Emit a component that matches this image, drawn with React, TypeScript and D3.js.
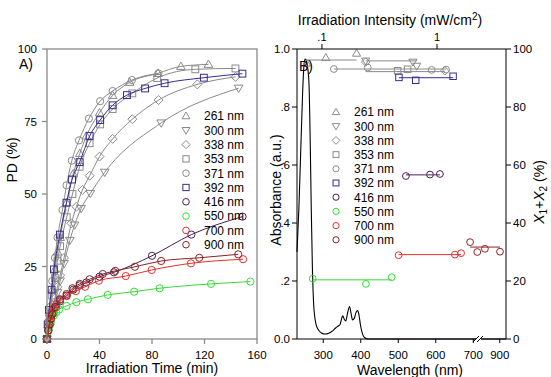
import React from "react";
import * as d3 from "d3";

// legend / series labels
const seriesLabels = ["261 nm", "300 nm", "338 nm", "353 nm", "371 nm", "392 nm", "416 nm", "550 nm", "700 nm", "900 nm"];

// panel A: photodegree vs irradiation time
const t261 = [0, 1, 2, 4, 6, 8, 10, 15, 20, 25, 30, 40, 50, 63, 84.5, 102, 123];
const pd261 = [0, 5, 9, 17, 24, 30, 35, 47, 57, 64, 70, 78, 84, 88.5, 91.6, 94, 94.7];
const t300 = [0, 2, 4, 6, 8, 10, 13, 17.4, 21, 26, 33, 44, 87, 146];
const pd300 = [0, 4, 8, 12, 16, 20, 26, 34, 39.3, 45, 50.2, 57.5, 74.5, 86.5];
const t338 = [0, 2, 4, 6, 8, 10, 13, 18.6, 22.4, 27, 32.5, 40, 50, 65, 85, 114.5, 143.6];
const pd338 = [0, 5, 10, 14, 18, 22, 28, 39.9, 45.6, 51.4, 56.3, 62.9, 69, 75.8, 82.4, 87.8, 90.4];
const t353 = [0, 1, 2, 4, 6, 8, 10, 15, 19.4, 24.9, 32.5, 40.5, 50, 65, 84, 113, 143.6];
const pd353 = [0, 4, 8, 15, 21, 27, 32, 42, 50, 59.4, 67.5, 74, 79.3, 84.7, 90, 93, 93.3];
const t371 = [0, 1, 2, 4, 6, 8, 11.8, 14.9, 18.9, 24.4, 31.9, 40.5, 50, 64.7, 84.8];
const pd371 = [0, 6, 11, 20, 28, 35, 44.5, 53, 61.5, 68.5, 76, 82, 85.5, 89.3, 91.6];
const t392 = [0, 0.5, 1.5, 3.5, 5.3, 9.8, 14.8, 19.1, 24.9, 32.5, 40.5, 50, 60.9, 74.7, 89.6, 119.5, 148.9];
const pd392 = [0, 5, 10, 17, 24, 36, 47, 55, 61, 70, 75.5, 80.6, 84.1, 86.4, 88.2, 90.1, 91.5];
const t416 = [0, 1, 2, 3, 5, 7, 10, 15, 20, 25, 30, 40, 51, 80, 110, 149];
const pd416 = [0, 3, 5, 7, 9, 11, 13, 15, 17, 18.5, 19.5, 21.5, 23, 28.7, 36, 42.2];
const t550 = [0, 1, 2, 3, 5, 7, 9.3, 14.9, 22.4, 31.2, 46.3, 66.4, 85.8, 125, 155];
const pd550 = [0, 2.5, 4.5, 6, 8, 9.2, 10.2, 11.4, 12.7, 13.7, 15.2, 16.3, 17.5, 19, 19.8];
const t700 = [0, 1, 2, 3, 5, 7, 10, 15, 22, 29, 39.5, 60, 79.8, 109.7, 149.4];
const pd700 = [0, 3, 6, 8, 10.5, 12, 13.5, 14.8, 16.5, 18, 20.1, 21.7, 23.8, 26.1, 27.5];
const t900 = [0, 1, 2, 3, 4, 6, 9.8, 14.9, 19.4, 24.9, 32.5, 42.5, 52, 67, 87, 116, 145.7];
const pd900 = [0, 3, 5, 7, 8.5, 11, 13.7, 15.5, 17.5, 19, 20.6, 22.4, 23.5, 24.9, 26.9, 28, 29.2];

// panel B: X1+X2 vs irradiation intensity (top axis)
const i261 = [0.0736, 0.108, 0.2];
const x261 = [95.1, 97.0, 98.5];
const i300 = [0.24, 0.618, 0.666];
const x300 = [95.9, 95.5, 94.1];
const i338 = [0.24, 1.17];
const x338 = [95.5, 92.5];
const i353 = [0.455, 0.556];
const x353 = [92.5, 93.0];
const i371 = [0.127, 0.25, 0.899, 1.2];
const x371 = [93.1, 93.6, 92.8, 92.9];
const i392 = [0.467, 0.653, 1.38];
const x392 = [90.2, 89.2, 90.6];
const i416 = [0.537, 0.869, 1.06];
const x416 = [56.2, 56.7, 56.9];
const i550 = [0.083, 0.241, 0.404];
const x550 = [20.8, 19.0, 21.3];
const i700 = [0.464, 1.43, 1.62];
const x700 = [28.9, 29.1, 29.6];
const i900 = [1.94, 2.24, 2.61, 3.53];
const x900 = [33.4, 30.0, 31.1, 30.1];
const fitLevelsB = [96.2, 95.9, 92.2, 92.2, 93.1, 90.1, 56.6, 20.4, 29.1, 31.7];

// panel B: absorbance spectrum
const wavelength = [230, 235, 240, 245, 249, 252, 256, 259, 262, 265, 268, 271, 274, 278, 282, 288, 295, 305, 315, 325, 333, 340, 345, 348, 352, 356, 360, 365, 370, 374, 378, 383, 387, 391, 395, 399, 404, 410, 420, 500, 600, 700, 760, 950];
const absorbance = [0.3, 0.45, 0.65, 0.85, 0.95, 0.965, 0.955, 0.93, 0.88, 0.7, 0.45, 0.25, 0.13, 0.07, 0.045, 0.03, 0.021, 0.017, 0.02, 0.028, 0.038, 0.045, 0.05, 0.065, 0.08, 0.068, 0.062, 0.09, 0.112, 0.09, 0.066, 0.072, 0.09, 0.098, 0.085, 0.05, 0.02, 0.005, 0, 0, 0, 0, 0, 0];

// axis ticks
const ticksTime = [0, 40, 80, 120, 160];
const ticksPD = [0, 25, 50, 75, 100];
const ticksAbs = [0, 0.2, 0.4, 0.6, 0.8, 1.0];
const ticksAbsLabels = ["0.0", ".2", ".4", ".6", ".8", "1.0"];
const ticksX = [0, 20, 40, 60, 80, 100];
const ticksWl = [300, 400, 500, 600, 700, 900];
const ticksInt = [0.1, 1];
const ticksIntLabels = [".1", "1"];

const timeArrays = [t261, t300, t338, t353, t371, t392, t416, t550, t700, t900];
const pdArrays = [pd261, pd300, pd338, pd353, pd371, pd392, pd416, pd550, pd700, pd900];
const intArrays = [i261, i300, i338, i353, i371, i392, i416, i550, i700, i900];
const xArrays = [x261, x300, x338, x353, x371, x392, x416, x550, x700, x900];

const gray = "#8a8a8a";
const colors = [gray, gray, gray, gray, gray, "#3b2a8f", "#4a1f58", "#33dd33", "#e5302a", "#8c2222"];
const shapes = ["triUp", "triDown", "diamond", "square", "circle", "square", "circle", "circle", "circle", "circle"];

const font = "Arial, 'Liberation Sans', sans-serif";

function Marker({ shape, x, y, color, s = 3.6 }: { shape: string; x: number; y: number; color: string; s?: number }) {
  const common = { fill: "none", stroke: color, strokeWidth: 1 };
  if (shape === "circle") return <circle cx={x} cy={y} r={s} {...common} />;
  if (shape === "square") return <rect x={x - s * 0.95} y={y - s * 0.95} width={s * 1.9} height={s * 1.9} {...common} />;
  if (shape === "triUp") {
    const k = s * 1.2;
    return <path d={`M${x},${y - k}L${x + k},${y + k * 0.7}L${x - k},${y + k * 0.7}Z`} {...common} />;
  }
  if (shape === "triDown") {
    const k = s * 1.2;
    return <path d={`M${x},${y + k}L${x + k},${y - k * 0.7}L${x - k},${y - k * 0.7}Z`} {...common} />;
  }
  const k = s * 1.25;
  return <path d={`M${x},${y - k}L${x + k},${y}L${x},${y + k}L${x - k},${y}Z`} {...common} />;
}

export default function App() {
  // panel A scales
  const xA = d3.scaleLinear().domain([0, 160]).range([47, 257]);
  const yA = d3.scaleLinear().domain([0, 100]).range([339, 49]);
  // panel B scales
  const L = 297, R = 506, T = 49, B = 339;
  const xWl = d3.scaleLinear().domain([230, 710, 750, 950]).range([L, 477, 481, R]);
  const xInt = d3.scaleLog().domain([0.0607, 3.98]).range([L, R]);
  const yAbs = d3.scaleLinear().domain([0, 1]).range([B, T]);
  const yX = d3.scaleLinear().domain([0, 100]).range([B, T]);

  const lineA = d3
    .line<[number, number]>()
    .x((d) => xA(d[0]))
    .y((d) => yA(d[1]))
    .curve(d3.curveMonotoneX);

  const absLine = d3
    .line<number>()
    .x((_, i) => xWl(wavelength[i]))
    .y((d) => yAbs(d))
    .curve(d3.curveMonotoneX);

  const fs = 11.5;

  return (
    <svg width={551} height={377} style={{ position: "absolute", left: 0, top: 0, background: "#fff" }} fontFamily={font}>
      <rect x={0} y={0} width={551} height={377} fill="#fff" />

      {/* ---------- Panel A ---------- */}
      {seriesLabels.map((_, si) => {
        const pts = timeArrays[si].map((t, i) => [t, pdArrays[si][i]] as [number, number]);
        return (
          <g key={"a" + si}>
            <path d={lineA(pts) || ""} fill="none" stroke={colors[si]} strokeWidth={1} />
            {pts.map((p, i) => (
              <Marker key={i} shape={shapes[si]} x={xA(p[0])} y={yA(p[1])} color={colors[si]} />
            ))}
          </g>
        );
      })}
      <rect x={47} y={49} width={210} height={290} fill="none" stroke={gray} strokeWidth={1.3} />
      {ticksPD.map((v) => (
        <g key={"ypd" + v}>
          <line x1={42} x2={47} y1={yA(v)} y2={yA(v)} stroke={gray} strokeWidth={1.3} />
          <text x={37} y={yA(v) + 4} textAnchor="end" fontSize={fs}>{v}</text>
        </g>
      ))}
      {ticksTime.map((v) => (
        <g key={"xt" + v}>
          <line x1={xA(v)} x2={xA(v)} y1={339} y2={344} stroke={gray} strokeWidth={1.3} />
          <text x={xA(v)} y={359} textAnchor="middle" fontSize={fs}>{v}</text>
        </g>
      ))}
      <text x={152} y={373} textAnchor="middle" fontSize={14}>Irradiation Time (min)</text>
      <text transform="translate(17,160) rotate(-90)" textAnchor="middle" fontSize={14}>PD (%)</text>
      <text x={19} y={69} fontSize={14}>A)</text>
      {seriesLabels.map((lab, si) => (
        <g key={"la" + si}>
          <Marker shape={shapes[si]} x={186} y={116 + si * 14.3} color={colors[si]} s={3.3} />
          <text x={204} y={116 + si * 14.3 + 4.3} fontSize={12}>{lab}</text>
        </g>
      ))}

      {/* ---------- Panel B ---------- */}
      <path d={absLine(absorbance) || ""} fill="none" stroke="#000" strokeWidth={1.1} />
      {seriesLabels.map((_, si) => {
        const I = intArrays[si];
        const lo = d3.min(I) as number;
        const hi = d3.max(I) as number;
        return (
          <g key={"b" + si}>
            <line x1={xInt(lo)} x2={xInt(hi)} y1={yX(fitLevelsB[si])} y2={yX(fitLevelsB[si])} stroke={colors[si]} strokeWidth={1} />
            {I.map((v, i) => (
              <Marker key={i} shape={shapes[si]} x={xInt(v)} y={yX(xArrays[si][i])} color={colors[si]} s={3.4} />
            ))}
          </g>
        );
      })}
      <line x1={L} x2={L} y1={T} y2={B} stroke="#000" />
      <line x1={R} x2={R} y1={T} y2={B} stroke="#000" />
      <line x1={L} x2={R} y1={T} y2={T} stroke="#000" />
      <line x1={L} x2={R} y1={B} y2={B} stroke="#000" />
      {/* axis break */}
      <rect x={476} y={B - 3} width={5} height={6} fill="#fff" />
      <line x1={473} x2={479} y1={B + 3} y2={B - 3} stroke="#000" />
      <line x1={477} x2={483} y1={B + 3} y2={B - 3} stroke="#000" />

      {ticksAbs.map((v, i) => (
        <g key={"ya" + v}>
          <line x1={L - 5} x2={L} y1={yAbs(v)} y2={yAbs(v)} stroke="#000" />
          <text x={290} y={yAbs(v) + 4} textAnchor="end" fontSize={fs}>{ticksAbsLabels[i]}</text>
        </g>
      ))}
      {ticksX.map((v) => (
        <g key={"yx" + v}>
          <line x1={R} x2={R + 5} y1={yX(v)} y2={yX(v)} stroke="#000" />
          <text x={513} y={yX(v) + 4} fontSize={fs}>{v}</text>
        </g>
      ))}
      {ticksWl.map((v) => (
        <g key={"xw" + v}>
          <line x1={xWl(v)} x2={xWl(v)} y1={B} y2={B + 4} stroke="#000" />
          <text x={xWl(v)} y={359} textAnchor="middle" fontSize={fs}>{v}</text>
        </g>
      ))}
      {ticksInt.map((v, i) => (
        <g key={"xi" + v}>
          <line x1={xInt(v)} x2={xInt(v)} y1={T} y2={T - 5} stroke="#000" />
          <text x={xInt(v)} y={41} textAnchor="middle" fontSize={11}>{ticksIntLabels[i]}</text>
        </g>
      ))}
      <text x={390} y={25} textAnchor="middle" fontSize={14}>
        Irradiation Intensity (mW/cm<tspan dy={-5} fontSize={10}>2</tspan><tspan dy={5}>)</tspan>
      </text>
      <text x={410} y={375} textAnchor="middle" fontSize={14}>Wavelength (nm)</text>
      <text transform="translate(281,190) rotate(-90)" textAnchor="middle" fontSize={14}>Absorbance (a.u.)</text>
      <text transform="translate(544,192) rotate(-90)" textAnchor="middle" fontSize={14}>
        <tspan fontStyle="italic">X</tspan>
        <tspan dy={3} fontSize={10}>1</tspan>
        <tspan dy={-3}>+</tspan>
        <tspan fontStyle="italic">X</tspan>
        <tspan dy={3} fontSize={10}>2</tspan>
        <tspan dy={-3}> (%)</tspan>
      </text>
      <text x={299} y={71} fontSize={14}>B)</text>
      {seriesLabels.map((lab, si) => (
        <g key={"lb" + si}>
          <Marker shape={shapes[si]} x={336} y={112 + si * 14.2} color={colors[si]} s={3.1} />
          <text x={354} y={112 + si * 14.2 + 4.3} fontSize={12}>{lab}</text>
        </g>
      ))}
    </svg>
  );
}
